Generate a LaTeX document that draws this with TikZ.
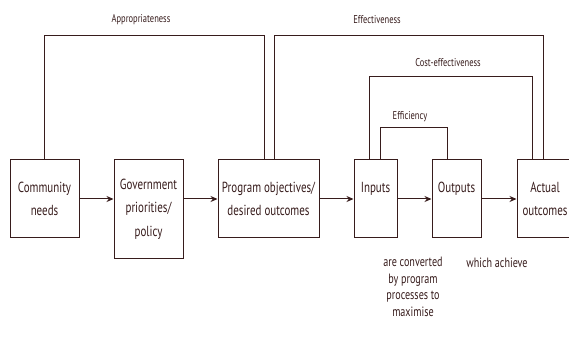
\documentclass[tikz,border=0pt]{standalone}
\usepackage{fontspec}
\setmainfont[FakeStretch=0.75]{PT Sans}
\usetikzlibrary{positioning,arrows.meta}
\definecolor{ink}{RGB}{55,28,28}

\begin{document}
\begin{tikzpicture}[
    x=1pt, y=-1pt,
    box/.style={rectangle, draw=ink, line width=1pt, text=ink, align=center, minimum height=78pt, inner sep=2pt, font=\fontsize{14.6}{23.5}\selectfont},
    link/.style={draw=ink, line width=1pt},
    arrow/.style={->, >={Stealth[length=7pt, width=6pt]}, draw=ink, line width=1pt},
    lbl/.style={text=ink, font=\fontsize{11.3}{13}\selectfont},
    note/.style={text=ink, align=center, font=\fontsize{13.5}{16.5}\selectfont},
    ]
    \clip (0,0) rectangle (569,344);

    % Chain of boxes
    \node[box, minimum width=69pt] (comm) at (44.5,199) {Community\\needs};
    \node[box, minimum width=69pt, minimum height=98pt] (gov) at (148.5,209) {Government\\priorities/\\policy};
    \node[box, minimum width=101pt] (prog) at (268.5,199) {Program objectives/\\desired outcomes};
    \node[box, minimum width=43pt] (inp) at (375.5,199) {Inputs\\\phantom{x}};
    \node[box, minimum width=49pt] (outp) at (456.5,199) {Outputs\\\phantom{x}};
    \node[box, minimum width=56pt] (act) at (545,199) {Actual\\outcomes};

    % Arrows along the chain
    \draw[arrow] (comm.east) -- (comm.east -| gov.west);
    \draw[arrow] (gov.east |- prog.east) -- (prog.west);
    \draw[arrow] (prog.east) -- (inp.west);
    \draw[arrow] (inp.east) -- (outp.west);
    \draw[arrow] (outp.east) -- (act.west);

    % Corner points of the brackets
    \coordinate (appR) at (264,36);
    \coordinate (effL) at (274,36);
    \coordinate (effR) at (543,36);
    \coordinate (costL) at (369,77);
    \coordinate (costR) at (532,77);
    \coordinate (eficL) at (380,128);
    \coordinate (eficR) at (447,128);

    % Brackets
    \draw[link] (comm.north) |- (appR) -- (appR |- prog.north);
    \draw[link] (effL |- prog.north) -- (effL) -- (effR) -- (effR |- act.north);
    \draw[link] (costL |- inp.north) -- (costL) -- (costR) -- (costR |- act.north);
    \draw[link] (eficL |- inp.north) -- (eficL) -- (eficR) -- (eficR |- outp.north);

    % Bracket labels
    \node[lbl] (appro) at (141,20) {Appropriateness};
    \node[lbl] (effect) at (377,20) {Effectiveness};
    \node[lbl] (costeff) at (448,63) {Cost-effectiveness};
    \node[lbl] (effic) at (410,117) {Efficiency};

    % Notes below
    \node[note, anchor=north] (conv) at (413,254) {are converted\\by program\\processes to\\maximise};
    \node[note, anchor=north] (achieve) at (497,254) {which achieve};
\end{tikzpicture}
\end{document}
